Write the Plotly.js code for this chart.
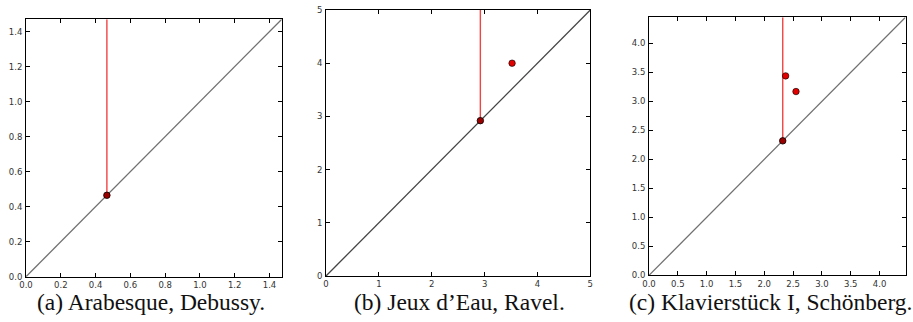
<!DOCTYPE html>
<html>
<head>
<meta charset="utf-8">
<script src="https://cdn.plot.ly/plotly-3.0.1.min.js"></script>
<style>html,body{margin:0;padding:0;background:#fff;}</style>
</head>
<body>
<div id="chart" style="width:913px;height:322px;"></div>
<script>
// Panel captions
const captions = ["(a) Arabesque, Debussy.", "(b) Jeux d\u2019Eau, Ravel.", "(c) Klavierst\u00fcck I, Sch\u00f6nberg."];

// Axis maxima (diagram extent) per panel
const axisMax = [1.47, 5, 4.45];

// Essential class (infinite death): birth value per panel
const essentialBirth = [0.465, 2.92, 2.32];

// Finite persistence points per panel
const finiteBirthA = [];
const finiteDeathA = [];
const finiteBirthB = [3.52];
const finiteDeathB = [4.0];
const finiteBirthC = [2.37, 2.55];
const finiteDeathC = [3.44, 3.17];

// Tick values / labels per panel
const ticksA = [0, 0.2, 0.4, 0.6, 0.8, 1.0, 1.2, 1.4];
const tickLabelsA = ["0.0", "0.2", "0.4", "0.6", "0.8", "1.0", "1.2", "1.4"];
const ticksB = [0, 1, 2, 3, 4, 5];
const tickLabelsB = ["0", "1", "2", "3", "4", "5"];
const ticksC = [0, 0.5, 1.0, 1.5, 2.0, 2.5, 3.0, 3.5, 4.0];
const tickLabelsC = ["0.0", "0.5", "1.0", "1.5", "2.0", "2.5", "3.0", "3.5", "4.0"];

const W = 913, H = 322;
// pixel boxes of the three plot areas [left, right, top, bottom]
const boxes = [[26, 281.7, 19.3, 276.7], [326, 590.3, 10, 276], [649, 905.5, 17.3, 275.4]];
const captionCenters = [150.5, 459, 770];
const diagColors = ["#707070", "#444444", "#707070"];

const finB = [finiteBirthA, finiteBirthB, finiteBirthC];
const finD = [finiteDeathA, finiteDeathB, finiteDeathC];
const ticks = [ticksA, ticksB, ticksC];
const tickLabels = [tickLabelsA, tickLabelsB, tickLabelsC];

const traces = [];
const layout = {
  width: W, height: H,
  margin: {l: 0, r: 0, t: 0, b: 0},
  paper_bgcolor: "#ffffff",
  plot_bgcolor: "#ffffff",
  showlegend: false,
  annotations: []
};

for (let i = 0; i < 3; i++) {
  const sfx = i === 0 ? "" : String(i + 1);
  const xa = "x" + sfx, ya = "y" + sfx;
  const m = axisMax[i];
  // diagonal
  traces.push({x: [0, m], y: [0, m], xaxis: xa, yaxis: ya, mode: "lines",
    line: {color: diagColors[i], width: 1.3}, hoverinfo: "skip"});
  // essential red line
  traces.push({x: [essentialBirth[i], essentialBirth[i]], y: [essentialBirth[i], m], xaxis: xa, yaxis: ya,
    mode: "lines", line: {color: "#f24444", width: 1.4}, hoverinfo: "skip"});
  // essential point
  traces.push({x: [essentialBirth[i]], y: [essentialBirth[i]], xaxis: xa, yaxis: ya, mode: "markers",
    marker: {color: "#9a0000", size: 6.5, line: {color: "#000000", width: 0.8}}});
  // finite points
  if (finB[i].length) {
    traces.push({x: finB[i], y: finD[i], xaxis: xa, yaxis: ya, mode: "markers",
      marker: {color: "#e00000", size: 6.5, line: {color: "#000000", width: 0.6}}});
  }
  const b = boxes[i];
  const common = {
    range: [0, m], showgrid: false, zeroline: false,
    showline: true, linecolor: "#000000", linewidth: 1, mirror: "ticks",
    ticks: "inside", ticklen: 4, tickwidth: 1, tickcolor: "#000000",
    tickmode: "array", tickvals: ticks[i], ticktext: tickLabels[i],
    tickfont: {family: "DejaVu Sans", size: 8.5, color: "#333333"},
    fixedrange: true
  };
  layout["xaxis" + sfx] = Object.assign({}, common, {
    domain: [b[0] / W, b[1] / W], anchor: ya, ticklabelstandoff: 0
  });
  layout["yaxis" + sfx] = Object.assign({}, common, {
    domain: [(H - b[3]) / H, (H - b[2]) / H], anchor: xa, ticklabelstandoff: 1
  });
  layout.annotations.push({
    text: captions[i], xref: "paper", yref: "paper",
    x: captionCenters[i] / W, y: (H - 302) / H, xanchor: "center", yanchor: "middle",
    showarrow: false, font: {family: "'Liberation Serif', 'Times New Roman', serif", size: 23.5, color: "#111111"}
  });
}

Plotly.newPlot("chart", traces, layout, {staticPlot: true, displayModeBar: false});
</script>
</body>
</html>
